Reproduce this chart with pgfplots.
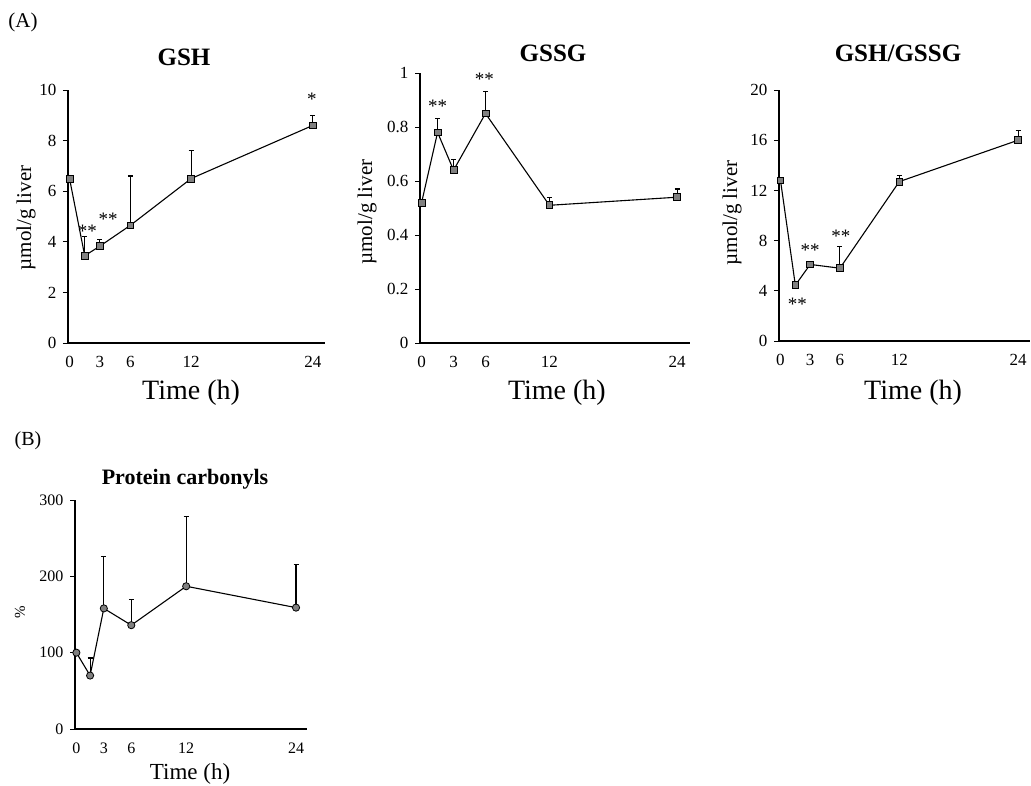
\documentclass[border=0pt]{standalone}
\usepackage{pgfplots}
\pgfplotsset{compat=1.18}
\usepackage{fontspec}
\setmainfont{Liberation Serif}
\tikzset{ast/.style={font=\fontsize{19}{20}\selectfont, inner sep=0pt}}
\pgfplotsset{
  myax/.style={
    scale only axis, anchor=south west,
    axis x line*=bottom, axis y line*=left,
    axis line style={line width=1.1pt,-},
    enlargelimits=false, clip=false,
    xmin=-0.15, xmax=25.2,
    xtick={0,3,6,12,24},
    xtick style={draw=none},
    ytick style={line width=0.9pt, black},
    tick align=outside, major tick length=5pt,
    /pgf/number format/assume math mode=true,
    tick label style={font=\fontsize{17}{20}\selectfont},
    xticklabel style={yshift=-5pt},
    yticklabel style={xshift=-3pt},
    xlabel={Time (h)},
    ylabel={µmol/g liver},
    xlabel style={font=\fontsize{28}{32}\selectfont, anchor=center},
    ylabel style={font=\fontsize{21}{24}\selectfont, anchor=center},
  },
  sq/.style={black, line width=1.1pt, mark=square*,
    mark options={fill=gray, draw=black, line width=0.8pt, mark size=3.4pt},
    error bars/.cd, y dir=plus, y explicit,
    error bar style={line width=1.1pt, black},
    error mark options={line width=1.2pt, mark size=2.5pt, black, rotate=90}},
  ci/.style={black, line width=1.1pt, mark=*,
    mark options={fill=gray, draw=black, line width=0.8pt, mark size=3.6pt},
    error bars/.cd, y dir=plus, y explicit,
    error bar style={line width=1.1pt, black},
    error mark options={line width=1.2pt, mark size=2.5pt, black, rotate=90}},
}
\begin{document}
\begin{tikzpicture}
\useasboundingbox (0,0) rectangle (1031pt,785pt);
% panel letters and titles
\node[font=\fontsize{21}{24}\selectfont] at (23pt,763pt) {(A)};
\node[font=\fontsize{20}{24}\selectfont] at (28pt,344pt) {(B)};
\node[font=\fontsize{25}{28}\selectfont\bfseries] at (184pt,728pt) {GSH};
\node[font=\fontsize{25}{28}\selectfont\bfseries] at (553pt,732pt) {GSSG};
\node[font=\fontsize{25}{28}\selectfont\bfseries] at (898pt,732pt) {GSH/GSSG};
\node[font=\fontsize{22}{24}\selectfont\bfseries] at (185pt,306pt) {Protein carbonyls};

% GSH
\begin{axis}[myax, at={(68pt,442pt)}, width=257pt, height=253pt,
  ymin=0, ymax=10, ytick={0,2,4,6,8,10},
  xlabel style={at={(axis description cs:0.479,-0.198)}},
  ylabel style={at={(axis description cs:-0.163,0.494)}}]
\addplot+[sq] table[x=t, y=v, y error=e] {
t v e
0 6.5 0
1.5 3.45 0.75
3 3.83 0.27
6 4.65 1.95
12 6.5 1.1
24 8.6 0.4
};
\node[ast] at (axis cs:1.75,4.4) {**};
\node[ast] at (axis cs:3.8,4.9) {**};
\node[ast] at (axis cs:23.9,9.65) {*};
\end{axis}

% GSSG
\begin{axis}[myax, at={(420pt,442pt)}, width=270pt, height=270pt,
  ymin=0, ymax=1, ytick={0,0.2,0.4,0.6,0.8,1},
  yticklabels={0,0.2,0.4,0.6,0.8,1},
  xlabel style={at={(axis description cs:0.507,-0.185)}},
  ylabel style={at={(axis description cs:-0.196,0.485)}}]
\addplot+[sq] table[x=t, y=v, y error=e] {
t v e
0 0.52 0
1.5 0.78 0.05
3 0.64 0.04
6 0.85 0.08
12 0.51 0.03
24 0.54 0.03
};
\node[ast] at (axis cs:1.5,0.875) {**};
\node[ast] at (axis cs:5.9,0.975) {**};
\end{axis}

% GSH/GSSG
\begin{axis}[myax, at={(779pt,444pt)}, width=251pt, height=251pt,
  ymin=0, ymax=20, ytick={0,4,8,12,16,20},
  xlabel style={at={(axis description cs:0.534,-0.207)}},
  ylabel style={at={(axis description cs:-0.187,0.51)}}]
\addplot+[sq] table[x=t, y=v, y error=e] {
t v e
0 12.8 0
1.5 4.45 0
3 6.1 0.15
6 5.8 1.7
12 12.7 0.5
24 16.0 0.8
};
\node[ast] at (axis cs:1.7,2.9) {**};
\node[ast] at (axis cs:3.0,7.25) {**};
\node[ast] at (axis cs:6.1,8.35) {**};
\end{axis}

% Protein carbonyls
\begin{axis}[myax, at={(75pt,56pt)}, width=232pt, height=229pt,
  ymin=0, ymax=300, ytick={0,100,200,300},
  tick label style={font=\fontsize{16}{18}\selectfont},
  xlabel={Time (h)}, ylabel={\%},
  xlabel style={font=\fontsize{23}{26}\selectfont, at={(axis description cs:0.496,-0.197)}},
  ylabel style={font=\fontsize{15}{16}\selectfont, at={(axis description cs:-0.237,0.51)}}]
\addplot+[ci] table[x=t, y=v, y error=e] {
t v e
0 100 0
1.5 70 23
3 158 68
6 136 34
12 187 91
24 159 57
};
\end{axis}
\end{tikzpicture}
\end{document}
